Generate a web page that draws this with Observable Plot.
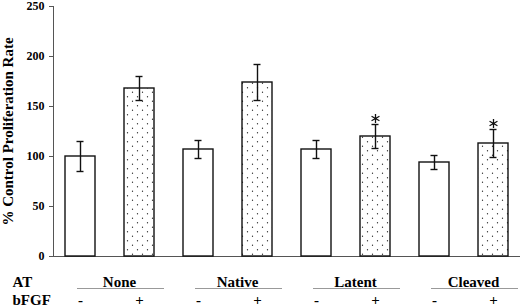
<!DOCTYPE html>
<html>
<head>
<meta charset="utf-8">
<script src="https://cdn.jsdelivr.net/npm/d3@7"></script>
<script src="https://cdn.jsdelivr.net/npm/@observablehq/plot@0.6"></script>
<style>
  html, body { margin: 0; padding: 0; background: #fff; }
  #chart svg { display: block; }
  #chart svg, #chart svg text, #chart svg g { font-family: "Liberation Serif", "Times New Roman", serif !important; font-weight: bold; }
</style>
</head>
<body>
<div id="chart"></div>
<script>
// ---- data ----
const groups = ["None", "Native", "Latent", "Cleaved"];
const fgfLevels = ["-", "+"];
const means = [100, 168, 107, 174, 107, 120, 94, 113];
const errors = [15, 12, 9, 18, 9, 12, 7, 14];
const significant = [false, false, false, false, false, true, false, true];
const yTicks = [0, 50, 100, 150, 200, 250];
const yTitle = "% Control Proliferation Rate";
const rowLabels = ["AT", "bFGF"];

const rows = [];
groups.forEach((g, gi) => fgfLevels.forEach((f, fi) => {
  const i = gi * 2 + fi;
  rows.push({key: g + " " + f, group: g, fgf: f, mean: means[i], err: errors[i], sig: significant[i]});
}));
const keys = rows.map(d => d.key);

const AT_ROW = -26, LINE_ROW = -32, FGF_ROW = -44;

const chart = Plot.plot({
  width: 520,
  height: 307,
  marginLeft: 53,
  marginRight: 0,
  marginTop: 6,
  marginBottom: 51,
  style: {fontSize: "12px", color: "#000", background: "#fff", overflow: "visible"},
  x: {type: "band", domain: keys, paddingInner: 0.494, paddingOuter: 0.185, axis: null},
  y: {domain: [0, 250], ticks: yTicks, label: null},
  marks: [
    Plot.axisY({ticks: yTicks, tickSize: 4, tickPadding: 5, label: null, fontSize: 12, stroke: "#555", fill: "#000"}),
    Plot.frame({anchor: "left", stroke: "#555"}),
    Plot.ruleY([0], {stroke: "#555"}),
    Plot.barY(rows, {x: "key", y: "mean", fill: d => d.fgf === "+" ? "url(#dots)" : "#fff", stroke: "#111", strokeWidth: 1.4}),
    Plot.ruleX(rows, {x: "key", y1: d => d.mean - d.err, y2: d => d.mean + d.err, stroke: "#111", strokeWidth: 1.4}),
    Plot.tickY(rows, {x: "key", y: d => d.mean - d.err, insetLeft: 11.5, insetRight: 11.5, stroke: "#111", strokeWidth: 1.4}),
    Plot.tickY(rows, {x: "key", y: d => d.mean + d.err, insetLeft: 11.5, insetRight: 11.5, stroke: "#111", strokeWidth: 1.4}),
    Plot.dot(rows.filter(d => d.sig), {x: "key", y: d => d.mean + d.err + 6, symbol: "asterisk", r: 4.3, stroke: "#111", strokeWidth: 1.3}),
    // y title
    Plot.text([yTitle], {frameAnchor: "left", textAnchor: "middle", rotate: -90, dx: -45, text: d => d, fontSize: 15, fill: "#000"}),
    // bottom table
    Plot.text([rowLabels[0]], {frameAnchor: "left", y: () => AT_ROW, dx: -41, textAnchor: "start", text: d => d, fontSize: 15, fill: "#000"}),
    Plot.text([rowLabels[1]], {frameAnchor: "left", y: () => FGF_ROW, dx: -41, textAnchor: "start", text: d => d, fontSize: 15, fill: "#000"}),
    Plot.text(groups, {x: d => d + " +", y: () => AT_ROW, dx: -20, text: d => d, fontSize: 15, fill: "#000"}),
    Plot.ruleY(groups, {x1: d => d + " -", x2: d => d + " +", y: () => LINE_ROW, insetLeft: 12, insetRight: -10, stroke: "#999", strokeWidth: 1}),
    Plot.text(rows, {x: "key", y: () => FGF_ROW, text: "fgf", fontSize: 15, fill: "#000"})
  ]
});

// dotted fill pattern
const ns = "http://www.w3.org/2000/svg";
const defs = document.createElementNS(ns, "defs");
defs.innerHTML = '<pattern id="dots" width="10" height="9" patternUnits="userSpaceOnUse">' +
  '<rect width="10" height="9" fill="#fff"/>' +
  '<circle cx="2.5" cy="2.25" r="0.65" fill="#333"/>' +
  '<circle cx="7.5" cy="6.75" r="0.65" fill="#333"/></pattern>';
chart.insertBefore(defs, chart.firstChild);

document.getElementById("chart").appendChild(chart);
</script>
</body>
</html>
